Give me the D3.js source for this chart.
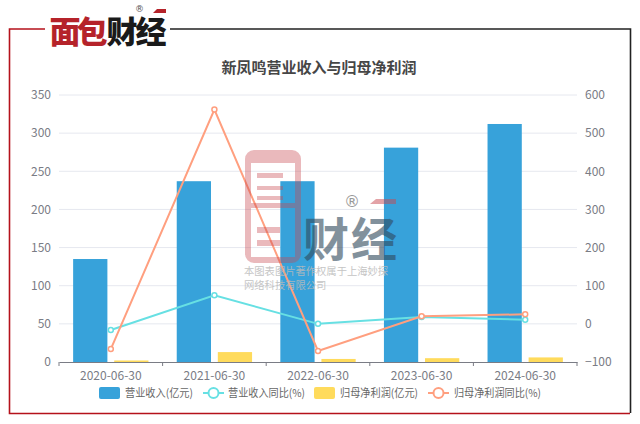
<!DOCTYPE html>
<html>
<head>
<meta charset="utf-8">
<script src="https://cdn.jsdelivr.net/npm/d3@7"></script>
<style>
  body { margin: 0; background: #fff; }
  svg { display: block; font-family: "Noto Sans CJK SC", "Noto Sans", sans-serif; }
</style>
</head>
<body>
<svg width="640" height="424"></svg>
<script>
const dates = ["2020-06-30", "2021-06-30", "2022-06-30", "2023-06-30", "2024-06-30"];
const revenue = [135, 237, 237, 281, 312];
const revenueYoy = [-16, 75, 0, 18, 11];
const profit = [2, 13, 4, 5, 6];
const profitYoy = [-66, 562, -71, 20, 25];
const leftTicks = [0, 50, 100, 150, 200, 250, 300, 350];
const rightTicks = [-100, 0, 100, 200, 300, 400, 500, 600];

const BLUE = "#37a2da", CYAN = "#67e0e3", YELLOW = "#ffdb5c", SALMON = "#ff9f7f";
const TICK_GREY = "#7a7c85";

const svg = d3.select("svg");
const margin = { top: 95, right: 63, bottom: 62, left: 59 };
const width = 640, height = 424;
const innerWidth = width - margin.left - margin.right;
const innerHeight = height - margin.top - margin.bottom;

// outer frame
const frame = svg.append("g").attr("fill", "none").attr("stroke-width", 1.6);
frame.append("path").attr("d", "M45,29H9.5V413.5H630").attr("stroke", "#b5121b");
frame.append("path").attr("d", "M170,29H630.5V413").attr("stroke", "#222");

// logo
const logo = svg.append("g").attr("font-size", 31).attr("font-weight", 900).attr("text-anchor", "middle");
logo.append("text").attr("x", 65).attr("y", 43).attr("fill", "#b5232a").text("面");
logo.append("text").attr("x", 92).attr("y", 43).attr("fill", "#b5232a").text("包");
logo.append("text").attr("x", 122).attr("y", 43).attr("fill", "#1a1a1a").text("财");
logo.append("text").attr("x", 151).attr("y", 43).attr("fill", "#1a1a1a").text("经");
svg.append("path").attr("d", "M153,13L157,9H166V13Z").attr("fill", "#b5232a");
svg.append("text").attr("x", 139.5).attr("y", 12).attr("font-size", 9).attr("text-anchor", "middle")
  .attr("font-family", "DejaVu Sans").attr("fill", "#555").text("®");

svg.append("text")
  .attr("x", 319).attr("y", 73)
  .attr("text-anchor", "middle")
  .attr("font-size", 15).attr("font-weight", 700)
  .attr("fill", "#464646")
  .text("新凤鸣营业收入与归母净利润");

const x = d3.scaleBand().domain(dates).range([0, innerWidth]);
const xBars = d3.scaleBand().domain(["revenue", "profit"])
  .range([0, x.bandwidth()]).paddingInner(0.166).paddingOuter(0.344);
const y = d3.scaleLinear().domain([0, 350]).range([innerHeight, 0]);
const yRight = d3.scaleLinear().domain([-100, 600]).range([innerHeight, 0]);

const g = svg.append("g").attr("transform", `translate(${margin.left},${margin.top})`);

// grid
g.append("g").selectAll("line")
  .data(leftTicks.slice(1))
  .enter().append("line")
  .attr("x1", 0).attr("x2", innerWidth)
  .attr("y1", d => y(d)).attr("y2", d => y(d))
  .attr("stroke", "#e6e8ef").attr("stroke-width", 1);

// left, right axis
const leftAxis = g.append("g")
  .call(d3.axisLeft(y).tickValues(leftTicks).tickSize(0).tickPadding(8));
const rightAxis = g.append("g")
  .attr("transform", `translate(${innerWidth},0)`)
  .call(d3.axisRight(yRight).tickValues(rightTicks).tickSize(0).tickPadding(8));
[leftAxis, rightAxis].forEach(a => {
  a.select(".domain").remove();
  a.attr("font-size", 12).attr("font-family", "'Noto Sans CJK SC', sans-serif");
  a.selectAll("text").attr("fill", TICK_GREY);
});

// bars
g.append("g").selectAll("rect")
  .data(dates)
  .enter().append("rect")
  .attr("x", d => x(d) + xBars("revenue"))
  .attr("width", xBars.bandwidth())
  .attr("y", (d, i) => y(revenue[i]))
  .attr("height", (d, i) => innerHeight - y(revenue[i]))
  .attr("fill", BLUE);

g.append("g").selectAll("rect")
  .data(dates)
  .enter().append("rect")
  .attr("x", d => x(d) + xBars("profit"))
  .attr("width", xBars.bandwidth())
  .attr("y", (d, i) => y(profit[i]))
  .attr("height", (d, i) => innerHeight - y(profit[i]))
  .attr("fill", YELLOW);

// x axis
const bottomAxis = g.append("g")
  .attr("transform", `translate(0,${innerHeight})`)
  .call(d3.axisBottom(x).tickSize(0).tickPadding(9));
bottomAxis.select(".domain").attr("stroke", TICK_GREY);
bottomAxis.attr("font-size", 12).attr("font-family", "'Noto Sans CJK SC', sans-serif");
bottomAxis.selectAll("text").attr("fill", TICK_GREY);
g.append("g").selectAll("line")
  .data(d3.range(dates.length + 1))
  .enter().append("line")
  .attr("x1", d => d * x.step()).attr("x2", d => d * x.step())
  .attr("y1", innerHeight).attr("y2", innerHeight + 4)
  .attr("stroke", TICK_GREY);

// lines
const cx = d => x(d) + x.bandwidth() / 2;
function drawLine(values, color) {
  const line = d3.line().x(d => cx(d)).y((d, i) => yRight(values[i]));
  g.append("path").datum(dates)
    .attr("d", line)
    .attr("fill", "none").attr("stroke", color).attr("stroke-width", 2);
  g.append("g").selectAll("circle")
    .data(dates)
    .enter().append("circle")
    .attr("cx", d => cx(d))
    .attr("cy", (d, i) => yRight(values[i]))
    .attr("r", 2.5)
    .attr("fill", "#fff").attr("stroke", color).attr("stroke-width", 1.5);
}
drawLine(revenueYoy, CYAN);
drawLine(profitYoy, SALMON);

// watermark
const box = (x0, y0, x1, y1) => `M${x0},${y0}H${x1}V${y1}H${x0}Z`;
const mark = svg.append("g");
mark.append("path")
  .attr("fill", "#c8474f").attr("opacity", 0.38).attr("fill-rule", "evenodd")
  .attr("d", "M254,150H292A9,9 0 0 1 301,159V254A9,9 0 0 1 292,263H254A9,9 0 0 1 245,254V159A9,9 0 0 1 254,150Z"
    + box(251, 163, 295, 203) + box(257, 173, 283, 178) + box(257, 186, 283, 190) + box(257, 196, 283, 200)
    + box(251, 208, 295, 257) + box(257, 227, 280, 233) + box(257, 240, 280, 246));
mark.append("text").attr("x", 350).attr("y", 256).attr("text-anchor", "middle")
  .attr("font-size", 46).attr("font-weight", 700).attr("fill", "#30495c").attr("opacity", 0.6)
  .attr("textLength", 94).text("财经");
mark.append("path").attr("d", "M370,204L376,199H396V204Z").attr("fill", "#c8474f").attr("opacity", 0.5);
mark.append("text").attr("x", 352).attr("y", 207).attr("text-anchor", "middle")
  .attr("font-size", 16).attr("font-family", "DejaVu Sans").attr("fill", "#999").text("®");
mark.append("text").attr("x", 244).attr("y", 275).attr("font-size", 10.3)
  .attr("fill", "#bbb").attr("opacity", 0.85).text("本图表图片著作权属于上海妙探");
mark.append("text").attr("x", 244).attr("y", 289).attr("font-size", 10.3)
  .attr("fill", "#bbb").attr("opacity", 0.85).text("网络科技有限公司");

// legend
const legendItems = [
  { name: "营业收入(亿元)", color: BLUE, type: "bar", x: 99, textX: 125, textW: 68 },
  { name: "营业收入同比(%)", color: CYAN, type: "line", x: 203, textX: 228, textW: 77 },
  { name: "归母净利润(亿元)", color: YELLOW, type: "bar", x: 314, textX: 340, textW: 78 },
  { name: "归母净利润同比(%)", color: SALMON, type: "line", x: 428, textX: 454, textW: 87 }
];
const legend = svg.append("g");
legendItems.forEach(item => {
  if (item.type === "bar") {
    legend.append("rect").attr("x", item.x).attr("y", 387).attr("width", 21).attr("height", 12)
      .attr("rx", 2).attr("fill", item.color);
  } else {
    legend.append("line").attr("x1", item.x).attr("x2", item.x + 21).attr("y1", 393).attr("y2", 393)
      .attr("stroke", item.color).attr("stroke-width", 2);
    legend.append("circle").attr("cx", item.x + 10.5).attr("cy", 393).attr("r", 5)
      .attr("fill", "#fff").attr("stroke", item.color).attr("stroke-width", 2);
  }
  legend.append("text").attr("x", item.textX).attr("y", 396.5)
    .attr("font-size", 11).attr("fill", "#666")
    .attr("textLength", item.textW).attr("lengthAdjust", "spacingAndGlyphs")
    .text(item.name);
});
</script>
</body>
</html>
